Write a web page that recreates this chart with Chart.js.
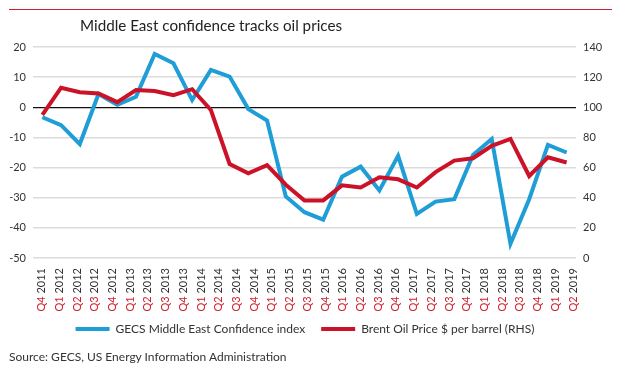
<!DOCTYPE html>
<html>
<head>
<meta charset="utf-8">
<script src="https://cdn.jsdelivr.net/npm/chart.js@4.4.1/dist/chart.umd.min.js"></script>
<style>
  html, body { margin: 0; padding: 0; background: #fff; overflow: hidden; }
  #wrap { position: relative; width: 626px; height: 379px; }
  #topline { position: absolute; left: 9px; top: 9px; width: 603px; height: 0; border-top: 1.5px solid #d0202e; }
  #title { position: absolute; left: 80px; top: 17px; font: 15.2px Lato, sans-serif; line-height: 16px; color: #222; white-space: nowrap; }
  #source { position: absolute; left: 9px; top: 351px; font: 12px Lato, sans-serif; line-height: 12px; color: #333; white-space: nowrap; }
  canvas { position: absolute; left: 0; top: 0; }
</style>
</head>
<body>
<div id="wrap">
  <canvas id="c" width="626" height="379"></canvas>
  <div id="topline"></div>
  <div id="title">Middle East confidence tracks oil prices</div>
  <div id="source">Source: GECS, US Energy Information Administration</div>
</div>
<script>
// Tick labels shown under the chart (31 quarters)
const quarterLabels = [
  'Q4 2011',
  'Q1 2012','Q2 2012','Q3 2012','Q4 2012',
  'Q1 2013','Q2 2013','Q3 2013','Q4 2013',
  'Q1 2014','Q2 2014','Q3 2014','Q4 2014',
  'Q1 2015','Q2 2015','Q3 2015','Q4 2015',
  'Q1 2016','Q2 2016','Q3 2016','Q4 2016',
  'Q1 2017','Q2 2017','Q3 2017','Q4 2017',
  'Q1 2018','Q2 2018','Q3 2018','Q4 2018',
  'Q1 2019','Q2 2019'
];

// GECS Middle East Confidence index (left axis)
const confidence = [
  -3.3, -5.9, -12.2, 4.4, 0.8, 3.5, 17.7, 14.6, 2.4, 12.4,
  10.2, -0.6, -4.4, -29.6, -34.8, -37.3, -23.0, -19.7, -27.6, -16.1,
  -35.4, -31.3, -30.5, -15.8, -10.5, -45.3, -30.5, -12.5, -15.0
];

// Brent oil price, $ per barrel (right axis)
const brent = [
  95, 113, 110, 109.2, 103.4, 111.4, 110.8, 108, 112, 98.2,
  62.4, 56.2, 61.6, 48.6, 38.2, 38.2, 48.2, 46.8, 53.6, 52.2,
  46.8, 57, 64.6, 66.2, 74.4, 79, 54.4, 66.8, 63.4
];

// data points (the plotted series have 29 observations)
const pointLabels = confidence.map((_, i) => String(i));

const leftTicks = { min: -50, max: 20, step: 10 };
const rightTicks = { min: 0, max: 140, step: 20 };

const BLUE = '#1f9dd6';
const RED = '#cc1228';
const QRED = '#d0202e';
const FONT = 'Lato, sans-serif';

const quarterTickPlugin = {
  id: 'quarterTicks',
  afterDraw(chart) {
    const sc = chart.scales.xl;
    const ctx = chart.ctx;
    ctx.save();
    ctx.font = '11px ' + FONT;
    ctx.textBaseline = 'middle';
    ctx.textAlign = 'right';
    quarterLabels.forEach((lab, i) => {
      const parts = lab.split(' ');
      const x = sc.getPixelForValue(i);
      ctx.save();
      ctx.translate(x, sc.top + 10);
      ctx.rotate(-Math.PI / 2);
      ctx.fillStyle = '#333';
      ctx.fillText(parts[1], 0, 0);
      const w = ctx.measureText(' ' + parts[1]).width;
      ctx.fillStyle = QRED;
      ctx.fillText(parts[0], -w, 0);
      ctx.restore();
    });
    ctx.restore();
  }
};

new Chart(document.getElementById('c'), {
  type: 'line',
  data: {
    labels: pointLabels,
    datasets: [
      {
        label: 'GECS Middle East Confidence index',
        data: confidence,
        borderColor: BLUE,
        backgroundColor: BLUE,
        borderWidth: 4,
        pointRadius: 0,
        tension: 0,
        yAxisID: 'y',
        xAxisID: 'x',
        order: 1
      },
      {
        label: 'Brent Oil Price $ per barrel (RHS)',
        data: brent,
        borderColor: RED,
        backgroundColor: RED,
        borderWidth: 4,
        pointRadius: 0,
        tension: 0,
        yAxisID: 'y1',
        xAxisID: 'x',
        order: 0
      }
    ]
  },
  options: {
    responsive: false,
    animation: false,
    devicePixelRatio: 1,
    layout: { padding: { top: 47, left: 0, right: 16, bottom: 34 } },
    plugins: {
      tooltip: { enabled: false },
      title: { display: false },
      legend: {
        display: true,
        position: 'bottom',
        align: 'center',
        labels: {
          boxWidth: 34,
          boxHeight: 4,
          padding: 16,
          color: '#333',
          font: { family: FONT, size: 12 },
          generateLabels(chart) {
            return chart.data.datasets.map((ds, i) => ({
              text: ds.label,
              fillStyle: ds.borderColor,
              strokeStyle: ds.borderColor,
              lineWidth: 0,
              hidden: false,
              datasetIndex: i,
              fontColor: '#333'
            }));
          }
        }
      }
    },
    scales: {
      x: {
        type: 'category',
        offset: true,
        display: false,
        grid: { display: false }
      },
      xl: {
        type: 'linear',
        position: 'bottom',
        min: -0.49,
        max: 30.17,
        grid: { display: false },
        border: { display: false },
        ticks: { display: false },
        afterFit(scale) { scale.height = 49; }
      },
      y: {
        position: 'left',
        min: leftTicks.min,
        max: leftTicks.max,
        ticks: {
          stepSize: leftTicks.step,
          color: '#333',
          padding: 7,
          font: { family: FONT, size: 11 }
        },
        grid: {
          drawTicks: false,
          lineWidth: (c) => c.tick && c.tick.value === 0 ? 1.2 : 1.5,
          color: (c) => c.tick && c.tick.value === 0 ? '#111' : '#dcdcdc'
        },
        border: { display: false },
        afterFit(scale) { scale.width = 33; }
      },
      y1: {
        position: 'right',
        min: rightTicks.min,
        max: rightTicks.max,
        ticks: {
          stepSize: rightTicks.step,
          color: '#333',
          padding: 7,
          font: { family: FONT, size: 11 }
        },
        grid: { drawOnChartArea: false, drawTicks: false },
        border: { display: false },
        afterFit(scale) { scale.width = 34; }
      }
    }
  },
  plugins: [quarterTickPlugin]
});
</script>
</body>
</html>
